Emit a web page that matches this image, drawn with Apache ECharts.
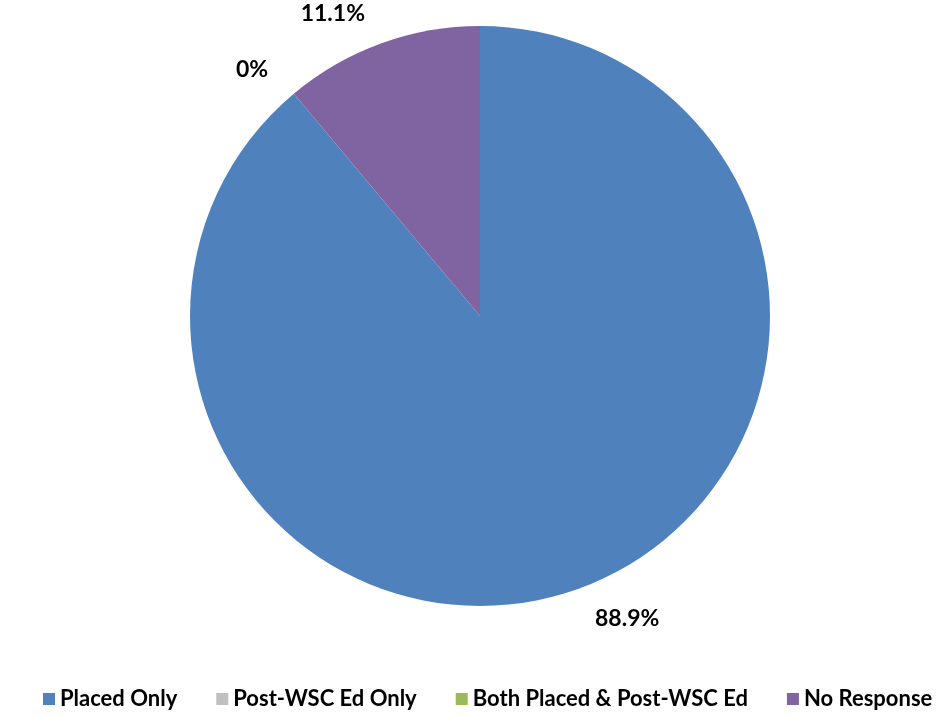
<!DOCTYPE html>
<html>
<head>
<meta charset="utf-8">
<script src="https://cdn.jsdelivr.net/npm/echarts@6/dist/echarts.min.js"></script>
<style>
  html, body { margin: 0; padding: 0; background: #fff; }
  #chart { width: 947px; height: 718px; }
</style>
</head>
<body>
<div id="chart"></div>
<script>
var categories = ["Placed Only", "Post-WSC Ed Only", "Both Placed & Post-WSC Ed", "No Response"];
var percents = [88.9, 0, 0, 11.1];
var colors = ["#4F81BD", "#C0C0C0", "#9BBB59", "#8064A2"];

var chart = echarts.init(document.getElementById('chart'));

var data = [];
for (var i = 0; i < categories.length; i++) {
	var item = { name: categories[i], value: percents[i], itemStyle: { color: colors[i] } };
	// the two empty slices sit on the same angle, only one label is visible
	if (i == 2) item.label = { show: false };
	data.push(item);
}

var option = {
	animation: false,
	textStyle: { fontFamily: 'Lato' },
	legend: {
		bottom: 3,
		left: 38,
		icon: 'rect',
		itemWidth: 12,
		itemHeight: 12,
		itemGap: 39,
		textStyle: { fontSize: 22, fontWeight: 'bold', color: '#000', fontFamily: 'Lato' },
		data: categories
	},
	series: [{
		type: 'pie',
		center: [480, 316],
		radius: 290,
		startAngle: 90,
		clockwise: true,
		avoidLabelOverlap: false,
		label: {
			show: true,
			position: 'outside',
			formatter: '{c}%',
			fontSize: 23,
			fontWeight: 'bold',
			color: '#000',
			fontFamily: 'Lato'
		},
		labelLine: { show: false, length: 32, length2: 0 },
		data: data
	}]
};

chart.setOption(option);
</script>
</body>
</html>
